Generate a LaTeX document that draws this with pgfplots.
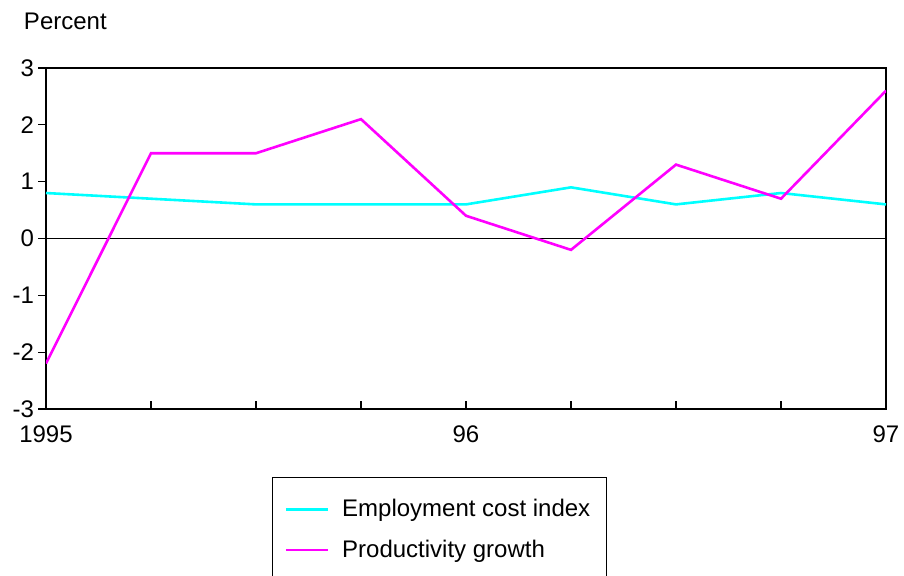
\documentclass[border=0pt]{standalone}
\usepackage{pgfplots}
\pgfplotsset{compat=1.18}
\usepackage{fontspec}
\setmainfont{Liberation Sans}
\definecolor{ecicyan}{RGB}{0,255,255}
\definecolor{prodmag}{RGB}{255,0,255}
\begin{document}
\begin{tikzpicture}
\useasboundingbox (0pt,0pt) rectangle (452pt,288pt);
\node[anchor=west, inner sep=0pt, font=\fontsize{12}{14}\selectfont] at (11.8pt,277.2pt) {Percent};
\begin{axis}[
  at={(23pt,83.5pt)}, anchor=south west,
  scale only axis, width=420pt, height=170.5pt,
  xmin=0, xmax=8, ymin=-3, ymax=3,
  axis line style={black, line width=0.6pt},
  xtick={0,...,8}, xticklabels={1995,,,,96,,,,97},
  ytick={-3,...,3}, yticklabels={-3,-2,-1,0,1,2,3},
  xtick pos=bottom, ytick pos=left,
  tick align=inside,
  major tick length=3.75pt,
  tick style={black, line width=0.6pt},
  y tick style={xshift=-3.75pt},
  tick label style={font=\fontsize{12}{14}\selectfont},
  x tick label style={yshift=-5pt},
  y tick label style={xshift=-2.5pt},
  legend style={at={(0.269,-0.1994)}, anchor=north west, draw=black, line width=0.6pt,
    font=\fontsize{12}{14}\selectfont, inner xsep=6pt, inner ysep=9pt, row sep=6pt,
    legend cell align=left},
  legend image code/.code={\draw[#1] (0pt,0pt) -- (21pt,0pt); \path (25.5pt,0pt);},
]
\addplot[black, line width=0.5pt, forget plot] coordinates {(0,0) (8,0)};
\addplot[ecicyan, line width=1.3pt] coordinates {
(0,0.8) (1,0.7) (2,0.6) (3,0.6) (4,0.6) (5,0.9) (6,0.6) (7,0.8) (8,0.6)};
\addlegendentry{Employment cost index}
\addplot[prodmag, line width=1.3pt] coordinates {
(0,-2.2) (1,1.5) (2,1.5) (3,2.1) (4,0.4) (5,-0.2) (6,1.3) (7,0.7) (8,2.6)};
\addlegendentry{Productivity growth}
\end{axis}
\end{tikzpicture}
\end{document}
